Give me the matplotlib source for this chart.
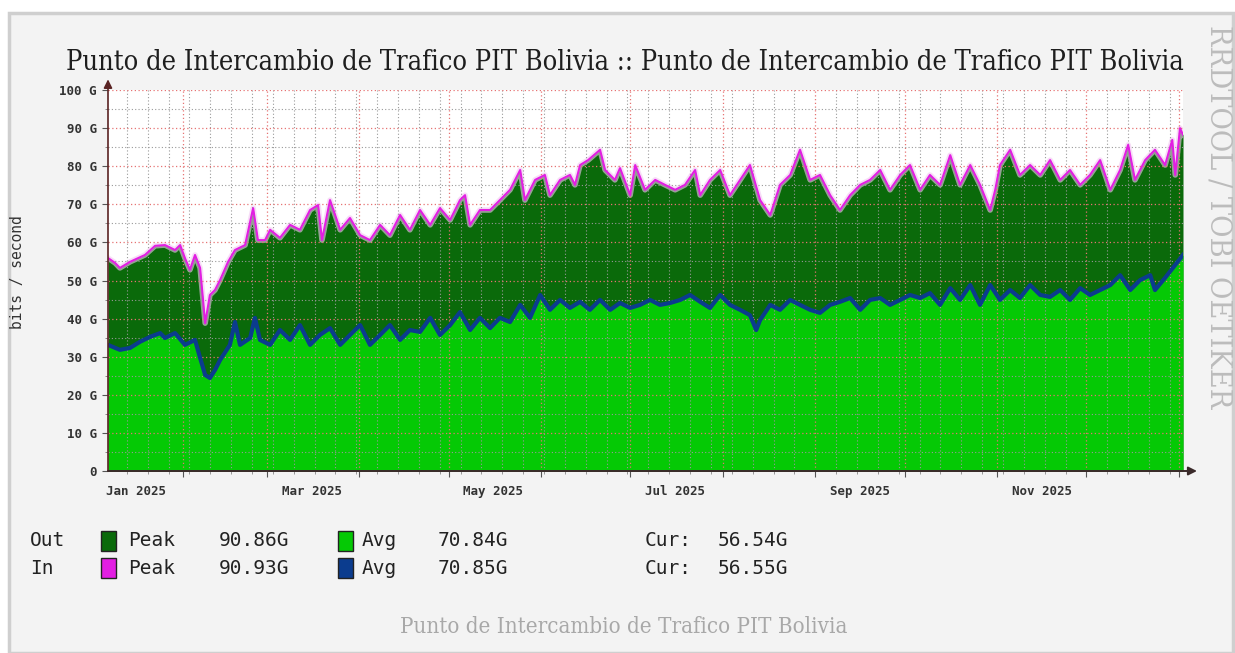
import numpy as np
import matplotlib.pyplot as plt
import matplotlib.dates as mdates
from matplotlib.patches import Rectangle
from matplotlib.ticker import MultipleLocator, FuncFormatter
from matplotlib import font_manager
from datetime import datetime

# days counted from 1 Jan 2025, traffic in G bits/s
peak_days = [5.7, 8.1, 9.7, 13.1, 18.1, 21.5, 24.8, 28.2, 29.9, 31.5, 33.2, 34.9, 36.6, 38.3,
             39.9, 41.6, 43.3, 46.0, 48.3, 51.7, 54.4, 56.0, 58.4, 60.1, 63.4, 66.8, 70.1, 73.5,
             76.2, 77.5, 80.2, 83.6, 86.9, 90.3, 93.6, 97.0, 100.3, 103.7, 107.0, 110.4, 113.8,
             117.1, 120.5, 123.8, 125.5, 127.2, 130.5, 133.9, 137.2, 140.6, 144.0, 145.6, 149.0,
             152.3, 154.0, 157.4, 160.7, 162.4, 164.1, 166.8, 170.8, 172.5, 175.8, 177.5, 180.9,
             182.6, 185.9, 189.3, 192.6, 196.0, 199.3, 202.7, 204.4, 207.7, 211.1, 214.4, 217.8,
             221.1, 224.5, 227.9, 231.2, 234.6, 237.9, 241.3, 244.6, 248.0, 251.3, 254.7, 258.1,
             261.4, 264.8, 268.1, 271.5, 274.8, 278.2, 281.5, 284.9, 288.3, 291.6, 295.0, 298.3,
             301.7, 303.4, 305.0, 308.4, 311.7, 315.1, 318.5, 321.8, 325.2, 328.5, 331.9, 335.2,
             338.6, 342.0, 345.3, 348.0, 350.3, 353.7, 357.0, 360.4, 362.8, 363.8, 365.4, 366.4]
out_peak = [55.9, 54.6, 53.3, 54.9, 56.7, 59.1, 59.3, 58.0, 59.3, 55.9, 52.8, 56.7, 53.3, 38.8,
            46.2, 47.5, 50.1, 54.9, 58.0, 59.3, 69.0, 60.6, 60.6, 63.3, 61.2, 64.6, 63.3, 68.5,
            69.8, 60.6, 71.1, 63.3, 66.4, 61.9, 60.6, 64.6, 61.9, 67.2, 63.3, 68.5, 64.6,
            69.0, 65.9, 71.1, 72.4, 64.6, 68.5, 68.5, 71.1, 73.8, 79.0, 71.1, 76.4,
            77.7, 72.4, 76.4, 77.7, 75.1, 80.3, 81.6, 84.3, 79.0, 76.4, 79.5, 72.4,
            80.3, 73.8, 76.4, 75.1, 73.8, 75.1, 79.0, 72.4, 76.4, 79.0, 72.4, 76.4,
            80.3, 71.1, 67.2, 75.1, 77.7, 84.3, 76.4, 77.7, 72.4, 68.5, 72.4, 75.1,
            76.4, 79.0, 73.8, 77.7, 80.3, 73.8, 77.7, 75.1, 82.9, 75.1, 80.3, 75.1,
            68.5, 73.8, 80.3, 84.3, 77.7, 80.3, 77.7, 81.6, 76.4, 79.0, 75.1, 77.7,
            81.6, 73.8, 79.0, 85.6, 76.4, 81.6, 84.3, 80.3, 86.9, 77.7, 90.0, 88.2]
in_peak = list(out_peak)  # the two peak curves coincide on the graph

avg_days = [5.7, 9.7, 13.1, 16.4, 19.8, 23.2, 24.8, 28.2, 31.5, 34.9, 36.6, 38.3, 39.9, 41.6,
            43.3, 46.6, 48.3, 50.0, 53.4, 55.0, 56.7, 60.1, 63.4, 66.8, 70.1, 73.5, 76.8, 80.2,
            83.6, 86.9, 90.3, 93.6, 97.0, 100.3, 103.7, 107.0, 110.4, 113.8, 117.1, 120.5, 123.8,
            127.2, 130.5, 133.9, 137.2, 140.6, 144.0, 147.3, 150.7, 154.0, 157.4, 160.7, 164.1,
            167.4, 170.8, 174.2, 177.5, 180.9, 184.2, 187.6, 190.9, 194.3, 197.7, 201.0, 204.4,
            207.7, 211.1, 214.4, 217.8, 221.1, 223.2, 224.5, 227.9, 231.2, 234.6, 237.9, 241.3,
            244.6, 248.0, 251.3, 254.7, 258.1, 261.4, 264.8, 268.1, 271.5, 274.8, 278.2, 281.5,
            284.9, 288.3, 291.6, 295.0, 298.3, 301.7, 305.0, 308.4, 311.7, 315.1, 318.5, 321.8,
            325.2, 328.5, 331.9, 335.2, 338.6, 342.0, 345.3, 348.7, 352.0, 355.4, 357.0, 360.4,
            363.8, 366.4]
out_avg = [33.1, 31.8, 32.3, 33.9, 35.2, 36.2, 34.9, 36.2, 33.1, 34.4, 29.7, 25.2, 24.4, 26.5,
           29.1, 33.1, 39.1, 33.1, 34.9, 40.2, 34.4, 33.1, 37.0, 34.4, 38.3, 33.1, 35.7, 37.5,
           33.1, 35.7, 38.3, 33.1, 35.7, 38.3, 34.4, 37.0, 36.5, 40.2, 35.7, 38.3, 41.7,
           37.0, 40.2, 37.5, 40.2, 39.1, 43.6, 40.2, 46.2, 42.3, 44.9, 42.8, 44.4,
           42.3, 44.9, 42.3, 44.1, 42.8, 43.6, 44.9, 43.6, 44.1, 44.9, 46.2, 44.4,
           42.8, 46.2, 43.6, 42.3, 40.9, 37.0, 39.6, 43.6, 42.3, 44.9, 43.6, 42.3,
           41.5, 43.6, 44.4, 45.4, 42.3, 44.9, 45.4, 43.6, 44.9, 46.2, 45.4, 46.7,
           43.6, 48.0, 44.9, 48.8, 43.6, 48.8, 44.9, 47.5, 45.4, 48.8, 46.2, 45.7,
           47.5, 44.9, 48.0, 46.2, 47.5, 48.8, 51.4, 47.5, 50.1, 51.4, 47.5, 50.7,
           54.1, 56.7]
in_avg = list(out_avg)  # drawn as a line on top of the out average area

month_labels = ["Jan 2025", "Mar 2025", "May 2025", "Jul 2025", "Sep 2025", "Nov 2025"]
label_months = [1, 3, 5, 7, 9, 11]

legend_rows = ["Out", "In"]
peak_text = ["90.86G", "90.93G"]
avg_text = ["70.84G", "70.85G"]
cur_text = ["56.54G", "56.55G"]

title = "Punto de Intercambio de Trafico PIT Bolivia :: Punto de Intercambio de Trafico PIT Bolivia"
caption = "Punto de Intercambio de Trafico PIT Bolivia"
watermark = "RRDTOOL / TOBI OETIKER"

DARK_GREEN = "#0a6a0a"
LIGHT_GREEN = "#05c905"
MAGENTA = "#e21ee2"
NAVY = "#0b3c8e"

W, H = 1235, 653


def px(x, y):
    return x / W, 1 - y / H


# serif font: prefer DejaVu Serif Condensed when present
serif_files = [f.fname for f in font_manager.fontManager.ttflist
               if "DejaVuSerifCondensed.ttf" in f.fname]
if serif_files:
    serif = font_manager.FontProperties(fname=serif_files[0])
else:
    serif = font_manager.FontProperties(family="DejaVu Serif")
mono = "DejaVu Sans Mono"

fig = plt.figure(figsize=(W / 100, H / 100), dpi=100, facecolor="white")
fig.patches.append(Rectangle(px(9, 653), (W - 11) / W, (653 - 13) / H, transform=fig.transFigure,
                             facecolor="#f3f3f3", edgecolor="#cfcfcf", linewidth=2.5, zorder=-5))

ax = fig.add_axes([108 / W, (H - 471) / H, 1075 / W, 381 / H])
ax.set_zorder(2)
ax.set_facecolor("white")

t0 = mdates.date2num(datetime(2025, 1, 1))
xp = t0 + np.array(peak_days)
xa = t0 + np.array(avg_days)

ax.fill_between(xp, 0, out_peak, color=DARK_GREEN, linewidth=0, zorder=1)
ax.fill_between(xa, 0, out_avg, color=LIGHT_GREEN, linewidth=0, zorder=1.1)
ax.plot(xp, in_peak, color="#f2c6f2", linewidth=4, alpha=0.6, zorder=1.05, solid_joinstyle="round")
ax.plot(xp, in_peak, color=MAGENTA, linewidth=1.5, zorder=3)
ax.plot(xa, in_avg, color=NAVY, linewidth=3, zorder=3)

ax.set_xlim(t0 + 5.7, t0 + 366.4)
ax.set_ylim(0, 100)

ax.xaxis.set_major_locator(mdates.MonthLocator())
ax.xaxis.set_minor_locator(mdates.WeekdayLocator(byweekday=mdates.MO))
ax.xaxis.set_major_formatter(FuncFormatter(lambda v, p: ""))
ax.yaxis.set_major_locator(MultipleLocator(10))
ax.yaxis.set_minor_locator(MultipleLocator(5))
ax.yaxis.set_major_formatter(FuncFormatter(lambda v, p: "0" if v == 0 else "%d G" % v))

ax.set_axisbelow(False)
ax.grid(which="minor", color=(0.6, 0.6, 0.6, 0.22), linestyle=(0, (1, 2)), linewidth=0.8)
ax.grid(which="major", color=(0.9, 0.45, 0.45, 0.28), linestyle=(0, (1, 2)), linewidth=0.9)

ax.tick_params(axis="y", which="major", length=4, color="#555555", labelsize=9,
               labelcolor="#333333", pad=4)
ax.tick_params(axis="y", which="minor", length=2, color="#777777")
ax.tick_params(axis="x", which="major", length=4, color="#555555", labelsize=9)
ax.tick_params(axis="x", which="minor", length=2, color="#888888")
for lab in ax.get_yticklabels():
    lab.set_family(mono)
    lab.set_fontweight("bold")

for s in ax.spines.values():
    s.set_visible(False)

# axis lines with arrows
ax.annotate("", xy=(0, 1.028), xytext=(0, 0), xycoords="axes fraction",
            arrowprops=dict(arrowstyle="-|>,head_length=0.5,head_width=0.25", color="#5a2323",
                            lw=1.2, shrinkA=0, shrinkB=0), annotation_clip=False)
ax.annotate("", xy=(1.013, 0), xytext=(0, 0), xycoords="axes fraction",
            arrowprops=dict(arrowstyle="-|>,head_length=0.5,head_width=0.25", color="#3a2a2a",
                            lw=1.4, shrinkA=0, shrinkB=0), annotation_clip=False)

# month labels centred in the middle of their month
for m, lab in zip(label_months, month_labels):
    ax.text(mdates.date2num(datetime(2025, m, 16)), -0.038, lab, transform=ax.get_xaxis_transform(),
            ha="center", va="top", family=mono, fontsize=9, fontweight="bold", color="#333333")

fig.text(*px(18, 272), "bits / second", rotation=90, ha="center", va="center",
         family=mono, fontsize=10.5, color="#333333")

fig.canvas.draw()
renderer = fig.canvas.get_renderer()


def fit(t, size_px, vertical=False):
    bb = t.get_window_extent(renderer=renderer)
    cur = bb.height if vertical else bb.width
    t.set_fontsize(t.get_fontsize() * size_px / cur)


tt = fig.text(*px(625, 63), title, ha="center", va="center", fontproperties=serif,
              fontsize=20, color="#1e1e1e")
fit(tt, 1114)
tc = fig.text(*px(624, 627), caption, ha="center", va="center", fontproperties=serif,
              fontsize=12, color="#a8a8a8")
fit(tc, 448)
tw = fig.text(*px(1219, 217), watermark, rotation=-90, ha="center", va="center",
              fontproperties=serif, fontsize=14, color="#bcbcbc")
fit(tw, 385, vertical=True)

# legend
swatches = [(DARK_GREEN, LIGHT_GREEN), (MAGENTA, NAVY)]
row_y = [541, 568]
for i in range(2):
    y = row_y[i]
    fig.text(*px(30, y), legend_rows[i], ha="left", va="center", family=mono, fontsize=14,
             color="#222222")
    for sx, col in zip([101, 338], swatches[i]):
        fig.patches.append(Rectangle(px(sx, y + 10), 15 / W, 20 / H, transform=fig.transFigure,
                                     facecolor=col, edgecolor="#222222", linewidth=1))
    fig.text(*px(128, y), "Peak", ha="left", va="center", family=mono, fontsize=14, color="#222222")
    fig.text(*px(219, y), peak_text[i], ha="left", va="center", family=mono, fontsize=14,
             color="#222222")
    fig.text(*px(362, y), "Avg", ha="left", va="center", family=mono, fontsize=14, color="#222222")
    fig.text(*px(438, y), avg_text[i], ha="left", va="center", family=mono, fontsize=14,
             color="#222222")
    fig.text(*px(645, y), "Cur:", ha="left", va="center", family=mono, fontsize=14, color="#222222")
    fig.text(*px(718, y), cur_text[i], ha="left", va="center", family=mono, fontsize=14,
             color="#222222")

fig.savefig("out.png", dpi=100, facecolor="white")
